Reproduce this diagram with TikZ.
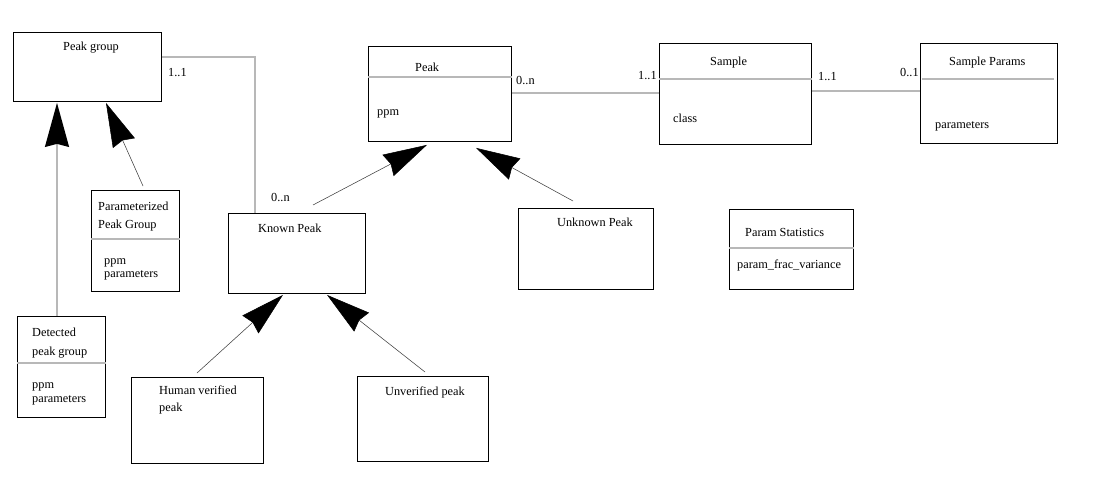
\documentclass[tikz,border=0pt]{standalone}
\usepackage{fontspec}
\setmainfont{Liberation Serif}
\usetikzlibrary{arrows.meta,calc}

\tikzset{
  x=1pt, y=-1pt,
  box/.style={draw, line width=0.9pt, rectangle, inner sep=0pt, anchor=north west},
  divider/.style={draw=black!28, line width=1.4pt},
  assoc/.style={draw=black!28, line width=1.6pt},
  txt/.style={anchor=base west, inner sep=0pt, font=\fontsize{12.3}{14}\selectfont},
  gentip/.style={-{Stealth[length=44pt,width=24pt,inset=3pt,black]}},
  gen/.style={gentip, draw=black!75, line width=0.55pt},
  gengray/.style={gentip, draw=black!28, line width=1.6pt},
}

\begin{document}
\begin{tikzpicture}
\useasboundingbox (0,0) rectangle (1118,495);

% class boxes
\node[box, minimum width=148pt, minimum height=69pt] (pg)  at (13,32)  {};
\node[box, minimum width=143pt, minimum height=95pt] (pk)  at (368,46) {};
\node[box, minimum width=152pt, minimum height=101pt] (sa) at (659,43) {};
\node[box, minimum width=137pt, minimum height=100pt] (sp) at (920,43) {};
\node[box, minimum width=88pt,  minimum height=101pt] (ppg) at (91,190) {};
\node[box, minimum width=137pt, minimum height=80pt]  (kp)  at (228,213) {};
\node[box, minimum width=135pt, minimum height=81pt]  (up)  at (518,208) {};
\node[box, minimum width=124pt, minimum height=80pt]  (ps)  at (729,209) {};
\node[box, minimum width=88pt,  minimum height=101pt] (det) at (17,316) {};
\node[box, minimum width=132pt, minimum height=86pt]  (hv)  at (131,377) {};
\node[box, minimum width=131pt, minimum height=85pt]  (uv)  at (357,376) {};

% compartment dividers
\draw[divider] (pk.west |- 0,77) -- (pk.east |- 0,77);
\draw[divider] (sa.west |- 0,79) -- (sa.east |- 0,79);
\draw[divider] ([xshift=2pt]sp.west |- 0,79) -- ([xshift=-4pt]sp.east |- 0,79);
\draw[divider] (ppg.west |- 0,239) -- (ppg.east |- 0,239);
\draw[divider] (ps.west |- 0,248) -- (ps.east |- 0,248);
\draw[divider] (det.west |- 0,363) -- (det.east |- 0,363);

% class names and attributes
\node[txt] (t1)  at (63,51)   {Peak group};
\node[txt] (t2)  at (415,71)  {Peak};
\node[txt] (t3)  at (377,115) {ppm};
\node[txt] (t4)  at (710,66)  {Sample};
\node[txt] (t5)  at (673,122) {class};
\node[txt] (t6)  at (949,66)  {Sample Params};
\node[txt] (t7)  at (935,128) {parameters};
\node[txt] (t8)  at (98,210)  {Parameterized};
\node[txt] (t9)  at (98,228)  {Peak Group};
\node[txt] (t10) at (104,264) {ppm};
\node[txt] (t11) at (104,277) {parameters};
\node[txt] (t12) at (258,232) {Known Peak};
\node[txt] (t13) at (557,226) {Unknown Peak};
\node[txt] (t14) at (745,236) {Param Statistics};
\node[txt] (t15) at (737,268) {param\_frac\_variance};
\node[txt] (t16) at (32,336)  {Detected};
\node[txt] (t17) at (32,355)  {peak group};
\node[txt] (t18) at (32,388)  {ppm};
\node[txt] (t19) at (32,402)  {parameters};
\node[txt] (t20) at (159,394) {Human verified};
\node[txt] (t21) at (159,411) {peak};
\node[txt] (t22) at (385,395) {Unverified peak};

% associations
\draw[assoc] (pg.east |- 0,57) -| (kp.north -| 255,0);
\draw[assoc] (pk.east |- 0,93) -- (sa.west |- 0,93);
\draw[assoc] (sa.east |- 0,91) -- (sp.west |- 0,91);

% multiplicities
\node[txt] (m1) at (168,77)  {1..1};
\node[txt] (m2) at (271,201) {0..n};
\node[txt] (m3) at (516,84)  {0..n};
\node[txt] (m4) at (638,79)  {1..1};
\node[txt] (m5) at (818,80)  {1..1};
\node[txt] (m6) at (900,77)  {0..1};

% generalizations
\draw[gengray] ($(det.north west)+(40,0)$) -- ($(pg.south west)+(44,1)$);
\draw[gen] ($(ppg.north west)+(52,-4)$) -- ($(pg.south west)+(93,1)$);
\draw[gen] ($(kp.north west)+(85,-8)$) -- ($(pk.south west)+(59,3)$);
\draw[gen] ($(up.north west)+(55,-7)$) -- ($(pk.south west)+(108,6)$);
\draw[gen] ($(hv.north west)+(66,-4)$) -- ($(kp.south west)+(55,1)$);
\draw[gen] ($(uv.north west)+(68,-4)$) -- ($(kp.south west)+(99,1)$);
\end{tikzpicture}
\end{document}
